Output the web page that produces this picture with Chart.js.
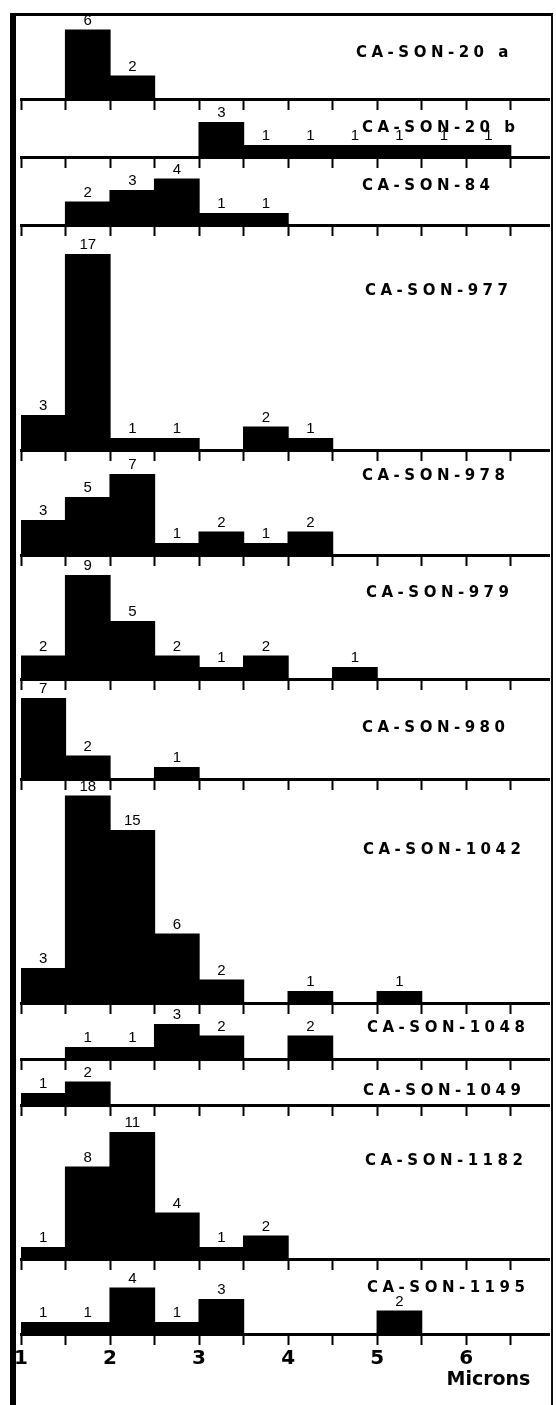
<!DOCTYPE html>
<html>
<head>
<meta charset="utf-8">
<script src="https://cdn.jsdelivr.net/npm/chart.js"></script>
<style>
html, body { margin: 0; padding: 0; background: #fff; }
#page { position: relative; width: 556px; height: 1405px; overflow: hidden; background: #fff; }
#frame { position: absolute; left: 10px; top: 13px; width: 535px; height: 1420px;
         border-left: 6px solid #000; border-top: 3px solid #000; border-right: 2px solid #111; }
.panel { position: absolute; left: 6px; }
.name { position: absolute; font: bold 15px "DejaVu Sans", sans-serif; letter-spacing: 4.5px;
        line-height: 18px; white-space: nowrap; color: #000; }
</style>
</head>
<body>
<div id="page">
  <div id="frame"></div>
</div>
<script>
// bins of 0.5 micron, from 1 to 6.5
const binCenters = [1.25, 1.75, 2.25, 2.75, 3.25, 3.75, 4.25, 4.75, 5.25, 5.75, 6.25];
const tickValues = [1, 1.5, 2, 2.5, 3, 3.5, 4, 4.5, 5, 5.5, 6, 6.5];
const tickLabels = ['1', '', '2', '', '3', '', '4', '', '5', '', '6', ''];
const axisTitle = 'Microns';

// counts per bin for each sample
const son20a = [0, 6, 2, 0, 0, 0, 0, 0, 0, 0, 0];
const son20b = [0, 0, 0, 0, 3, 1, 1, 1, 1, 1, 1];
const son84 = [0, 2, 3, 4, 1, 1, 0, 0, 0, 0, 0];
const son977 = [3, 17, 1, 1, 0, 2, 1, 0, 0, 0, 0];
const son978 = [3, 5, 7, 1, 2, 1, 2, 0, 0, 0, 0];
const son979 = [2, 9, 5, 2, 1, 2, 0, 1, 0, 0, 0];
const son980 = [7, 2, 0, 1, 0, 0, 0, 0, 0, 0, 0];
const son1042 = [3, 18, 15, 6, 2, 0, 1, 0, 1, 0, 0];
const son1048 = [0, 1, 1, 3, 2, 0, 2, 0, 0, 0, 0];
const son1049 = [1, 2, 0, 0, 0, 0, 0, 0, 0, 0, 0];
const son1182 = [1, 8, 11, 4, 1, 2, 0, 0, 0, 0, 0];
const son1195 = [1, 1, 4, 1, 3, 0, 0, 0, 2, 0, 0];

const sampleNames = ['CA-SON-20 a', 'CA-SON-20 b', 'CA-SON-84', 'CA-SON-977', 'CA-SON-978', 'CA-SON-979',
                     'CA-SON-980', 'CA-SON-1042', 'CA-SON-1048', 'CA-SON-1049', 'CA-SON-1182', 'CA-SON-1195'];
const sampleCounts = [son20a, son20b, son84, son977, son978, son979, son980, son1042, son1048, son1049, son1182, son1195];

// layout of the stacked panels (page pixels)
const baselines = [99, 157, 225, 450, 555, 679, 779, 1003, 1059, 1105, 1259, 1334];
const nameLeft = [356, 362, 362, 365, 362, 366, 362, 363, 367, 363, 365, 367];
const nameMid = [52, 127, 185, 290, 475, 592, 727, 849, 1027, 1090, 1160, 1287];
const pxPerCount = 11.5;

const countLabels = {
    id: 'countLabels',
    afterDatasetsDraw(chart) {
        const ctx = chart.ctx;
        const meta = chart.getDatasetMeta(0);
        const data = chart.data.datasets[0].data;
        ctx.save();
        ctx.font = '15px "Liberation Sans", Arial, sans-serif';
        ctx.fillStyle = '#000';
        ctx.textAlign = 'center';
        ctx.textBaseline = 'bottom';
        meta.data.forEach((bar, i) => {
            if (data[i].y > 0) ctx.fillText(String(data[i].y), bar.x, bar.y - 2);
        });
        if (chart.options.showTitle) {
            const xs = chart.scales.x;
            ctx.font = 'bold 19px "DejaVu Sans", sans-serif';
            ctx.textBaseline = 'middle';
            ctx.fillText(axisTitle, xs.getPixelForValue(6.25), chart.chartArea.bottom + 46);
        }
        ctx.restore();
    }
};

const page = document.getElementById('page');

sampleNames.forEach((name, i) => {
    const top = i === 0 ? 16 : baselines[i - 1] + 1;
    const areaH = baselines[i] - top;
    const last = i === sampleNames.length - 1;
    const axisH = last ? 62 : 13;

    const wrap = document.createElement('div');
    wrap.className = 'panel';
    wrap.style.top = top + 'px';
    const canvas = document.createElement('canvas');
    canvas.width = 546;
    canvas.height = areaH + axisH;
    wrap.appendChild(canvas);
    page.appendChild(wrap);

    const label = document.createElement('div');
    label.className = 'name';
    label.textContent = name;
    label.style.left = nameLeft[i] + 'px';
    label.style.top = (nameMid[i] - 9) + 'px';
    page.appendChild(label);

    new Chart(canvas, {
        type: 'bar',
        data: {
            datasets: [{
                data: binCenters.map((x, k) => ({x, y: sampleCounts[i][k]})),
                backgroundColor: '#000',
                borderWidth: 0,
                inflateAmount: 0.6,
                barPercentage: 1,
                categoryPercentage: 1
            }]
        },
        options: {
            responsive: false,
            animation: false,
            showTitle: last,
            layout: {padding: {left: 15, right: 3, top: 0, bottom: 0}},
            plugins: {legend: {display: false}, tooltip: {enabled: false}},
            scales: {
                x: {
                    type: 'linear',
                    offset: false,
                    min: 1,
                    max: 6.93,
                    afterBuildTicks: s => { s.ticks = tickValues.map(v => ({value: v})); },
                    afterFit: s => { s.height = axisH; },
                    grid: {offset: false, drawOnChartArea: false, drawTicks: true, tickLength: 11, tickWidth: 2, tickColor: '#000'},
                    border: {display: true, color: '#000', width: 3},
                    ticks: {
                        display: last,
                        autoSkip: false,
                        maxRotation: 0,
                        padding: 2,
                        color: '#000',
                        font: {family: '"DejaVu Sans", sans-serif', size: 20, weight: 'bold'},
                        callback: (v, k) => tickLabels[k]
                    }
                },
                y: {display: false, min: 0, max: areaH / pxPerCount}
            }
        },
        plugins: [countLabels]
    });
});
</script>
</body>
</html>
